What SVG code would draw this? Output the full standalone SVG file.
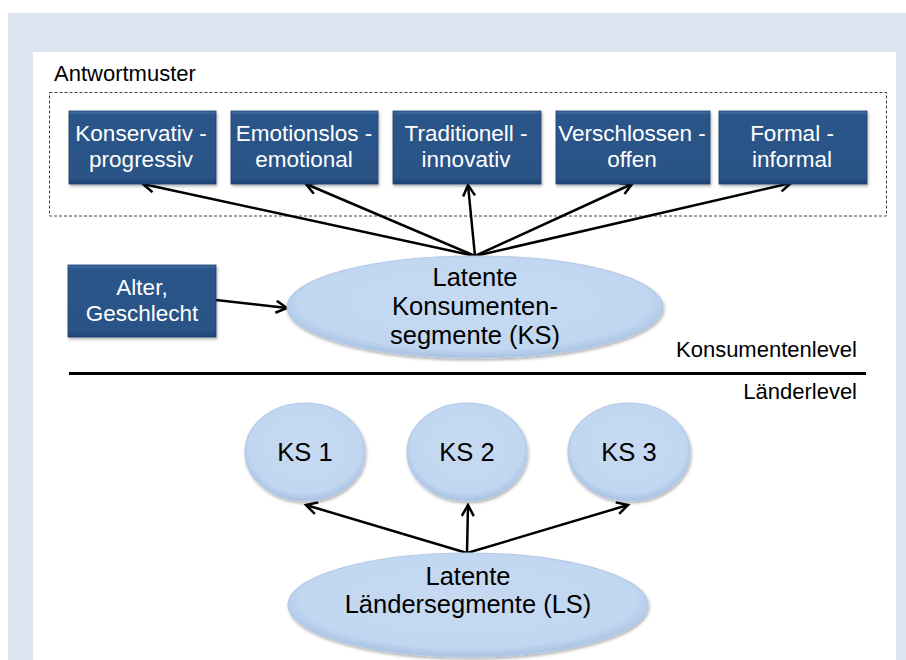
<svg xmlns="http://www.w3.org/2000/svg" width="906" height="660" viewBox="0 0 906 660">
<style>
.box{fill:url(#boxg);stroke:#1f3f6b;stroke-width:0.8;filter:url(#sh)}
.btxt{font-family:"Liberation Sans",Arial,sans-serif;font-size:22.5px;fill:#ffffff;text-anchor:middle}
.ell{fill:url(#ellg);stroke:#b4cae6;stroke-width:1.2;filter:url(#sh)}
.etxt{font-family:"Liberation Sans",Arial,sans-serif;font-size:25.5px;fill:#000000;text-anchor:middle}
.lbl{font-family:"Liberation Sans",Arial,sans-serif;font-size:22px;fill:#000000}
.con{stroke:#000000;stroke-width:2.5;fill:none;marker-end:url(#ah)}
</style>
<defs>
<linearGradient id="boxg" x1="0" y1="0" x2="0" y2="1">
<stop offset="0" stop-color="#4470a6"/>
<stop offset="0.06" stop-color="#2c5589"/>
<stop offset="0.92" stop-color="#2a5286"/>
<stop offset="1" stop-color="#1f4272"/>
</linearGradient>
<radialGradient id="ellg" cx="0.5" cy="0.45" r="0.55">
<stop offset="0" stop-color="#c6daf2"/>
<stop offset="0.85" stop-color="#c1d6f0"/>
<stop offset="1" stop-color="#a8c2e3"/>
</radialGradient>
<filter id="sh" x="-10%" y="-10%" width="120%" height="130%">
<feDropShadow dx="1" dy="2" stdDeviation="1.5" flood-color="#000000" flood-opacity="0.3"/>
</filter>
<marker id="ah" markerUnits="userSpaceOnUse" markerWidth="16" markerHeight="16" refX="12" refY="7" orient="auto">
<path d="M1,1 L12,7 L1,13" fill="none" stroke="#000000" stroke-width="2.5" stroke-linejoin="miter"/>
</marker>
</defs>
<rect x="0" y="0" width="906" height="660" fill="#ffffff"/>
<rect x="8" y="13" width="898" height="647" fill="#dce6f1"/>
<rect x="33" y="52" width="863" height="608" fill="#ffffff"/>

<text class="lbl" x="54" y="81">Antwortmuster</text>
<rect x="49.5" y="92.5" width="837" height="123.5" fill="none" stroke="#404040" stroke-width="1" stroke-dasharray="3,2"/>

<g id="connectors">
<line class="con" x1="475" y1="256" x2="143" y2="184"/>
<line class="con" x1="475" y1="256" x2="306" y2="184"/>
<line class="con" x1="475" y1="256" x2="468" y2="185"/>
<line class="con" x1="475" y1="256" x2="632" y2="184"/>
<line class="con" x1="475" y1="256" x2="791" y2="183"/>
<line class="con" x1="216" y1="300" x2="287" y2="308"/>
<line class="con" x1="467" y1="553" x2="306" y2="505"/>
<line class="con" x1="467" y1="553" x2="468" y2="505"/>
<line class="con" x1="467" y1="553" x2="628" y2="505"/>
</g>

<g id="n1"><rect class="box" x="69" y="111" width="147" height="73"/>
<text class="btxt" x="141" y="141">Konservativ -</text><text class="btxt" x="141" y="167">progressiv</text></g>
<g id="n2"><rect class="box" x="231" y="111" width="147" height="73"/>
<text class="btxt" x="304" y="141">Emotionslos -</text><text class="btxt" x="304" y="167">emotional</text></g>
<g id="n3"><rect class="box" x="393" y="111" width="148" height="73"/>
<text class="btxt" x="466" y="141">Traditionell -</text><text class="btxt" x="466" y="167">innovativ</text></g>
<g id="n4"><rect class="box" x="556" y="111" width="154" height="73"/>
<text class="btxt" x="632" y="141">Verschlossen -</text><text class="btxt" x="632" y="167">offen</text></g>
<g id="n5"><rect class="box" x="719" y="111" width="148" height="73"/>
<text class="btxt" x="792" y="141">Formal -</text><text class="btxt" x="792" y="167">informal</text></g>

<g id="n6"><rect class="box" x="68" y="265" width="148" height="72"/>
<text class="btxt" x="142" y="295">Alter,</text><text class="btxt" x="142" y="321">Geschlecht</text></g>

<g id="n7"><ellipse class="ell" cx="475" cy="307" rx="188" ry="51"/>
<text class="etxt" x="475" y="286">Latente</text><text class="etxt" x="475" y="315">Konsumenten-</text><text class="etxt" x="475" y="344">segmente (KS)</text></g>

<text class="lbl" x="857" y="357" text-anchor="end">Konsumentenlevel</text>
<line x1="69" y1="373.5" x2="866" y2="373.5" stroke="#000000" stroke-width="3"/>
<text class="lbl" x="857" y="399" text-anchor="end">Länderlevel</text>

<g id="n8"><ellipse class="ell" cx="305" cy="452" rx="60" ry="49"/>
<text class="etxt" x="305" y="461">KS 1</text></g>
<g id="n9"><ellipse class="ell" cx="467" cy="452" rx="60" ry="49"/>
<text class="etxt" x="467" y="461">KS 2</text></g>
<g id="n10"><ellipse class="ell" cx="629" cy="452" rx="61" ry="49"/>
<text class="etxt" x="629" y="461">KS 3</text></g>

<g id="n11"><ellipse class="ell" cx="468" cy="605" rx="180" ry="52"/>
<text class="etxt" x="468" y="585">Latente</text><text class="etxt" x="468" y="613">Ländersegmente (LS)</text></g>
</svg>
